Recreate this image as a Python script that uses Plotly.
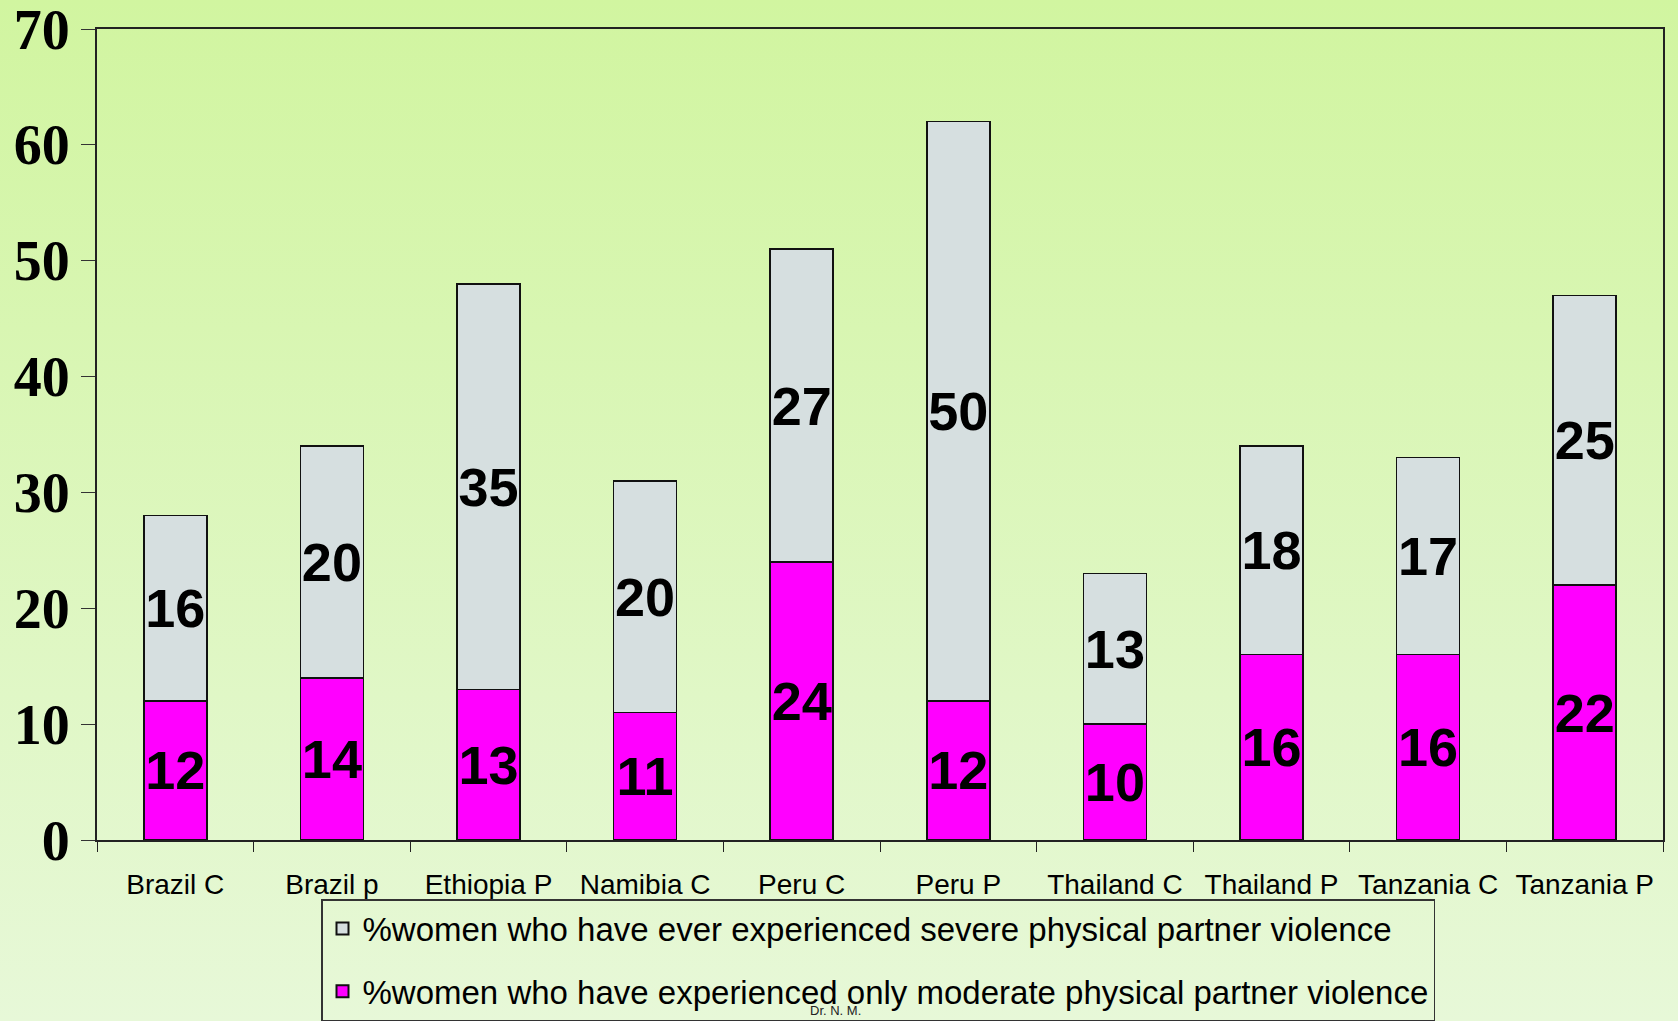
import base64
import plotly.graph_objects as go

categories = ["Brazil C", "Brazil p", "Ethiopia P", "Namibia C", "Peru C",
              "Peru P", "Thailand C", "Thailand P", "Tanzania C", "Tanzania P"]
moderate = [12, 14, 13, 11, 24, 12, 10, 16, 16, 22]
severe = [16, 20, 35, 20, 27, 50, 13, 18, 17, 25]
y_ticks = [0, 10, 20, 30, 40, 50, 60, 70]
name_severe = "%women who have ever experienced severe physical partner violence"
name_moderate = "%women who have experienced only moderate physical partner violence"

W, H = 1678, 1021
ML, MR, MT, MB = 97, 15, 29, 181
pw, ph = W - ML - MR, H - MT - MB

svg = ('<svg xmlns="http://www.w3.org/2000/svg" width="100" height="100" preserveAspectRatio="none">'
       '<defs><linearGradient id="g" x1="0" y1="0" x2="0" y2="1">'
       '<stop offset="0" stop-color="#d1f5a0"/><stop offset="1" stop-color="#e7f8d8"/>'
       '</linearGradient></defs><rect width="100" height="100" fill="url(#g)"/></svg>')
bg_src = "data:image/svg+xml;base64," + base64.b64encode(svg.encode()).decode()

narrow = "Liberation Sans Narrow, Arial Narrow, Liberation Sans, Arial"

fig = go.Figure()
fig.add_trace(go.Bar(
    x=categories, y=moderate, name=name_moderate,
    marker=dict(color="#ff00ff", line=dict(color="#111111", width=1.5)),
    text=moderate, textposition="inside", insidetextanchor="middle",
    constraintext="none", textangle=0,
    textfont=dict(family=narrow, size=54, color="black", weight="bold"),
    legendgroup="m", legendrank=2,
))
fig.add_trace(go.Bar(
    x=categories, y=severe, name=name_severe,
    marker=dict(color="#d6dfe0", line=dict(color="#111111", width=1.5)),
    text=severe, textposition="inside", insidetextanchor="middle",
    constraintext="none", textangle=0,
    textfont=dict(family=narrow, size=54, color="black", weight="bold"),
    legendgroup="s", legendrank=1,
))

fig.update_layout(
    width=W, height=H,
    barmode="stack", bargap=0.598,
    margin=dict(l=ML, r=MR, t=MT, b=MB, autoexpand=False),
    paper_bgcolor="#e2f7c8", plot_bgcolor="rgba(0,0,0,0)",
    images=[dict(source=bg_src, xref="paper", yref="paper",
                 x=-ML / pw, y=1 + MT / ph, sizex=W / pw, sizey=H / ph,
                 xanchor="left", yanchor="top", sizing="stretch", layer="below")],
    xaxis=dict(
        showline=True, linecolor="#222222", linewidth=2, mirror=True,
        ticks="outside", tickson="boundaries", ticklen=10, tickcolor="#222222",
        tickfont=dict(family="Liberation Sans, Arial", size=28, color="black"),
        ticklabelstandoff=18, showgrid=False,
    ),
    yaxis=dict(
        range=[0, 70], tickvals=y_ticks, ticktext=[str(v) for v in y_ticks],
        showline=True, linecolor="#222222", linewidth=2, mirror=True,
        ticks="outside", ticklen=14, tickcolor="#333333",
        tickfont=dict(family="Liberation Serif, Times New Roman, serif", size=56,
                      color="black", weight="bold"),
        ticklabeloverflow="allow",
        showgrid=False, zeroline=False,
    ),
    legend=dict(
        x=(321 - ML) / pw, y=(MT + ph - 899) / ph, xanchor="left", yanchor="top",
        orientation="v", bgcolor="rgba(0,0,0,0)", bordercolor="#333333", borderwidth=1.5,
        font=dict(family="Liberation Sans, Arial", size=33, color="black"),
        tracegroupgap=17, itemsizing="constant",
    ),
    showlegend=True,
    annotations=[dict(text="Dr. N. M.", xref="paper", yref="paper",
                      x=(808 - ML) / pw, y=(MT + ph - 1020) / ph,
                      xanchor="left", yanchor="bottom", showarrow=False,
                      font=dict(family="Liberation Sans, Arial", size=13, color="#222222"))],
)

fig.write_html("out.html", config={"displayModeBar": False},
               post_script="document.body.style.margin='0';document.body.style.overflow='hidden';")
